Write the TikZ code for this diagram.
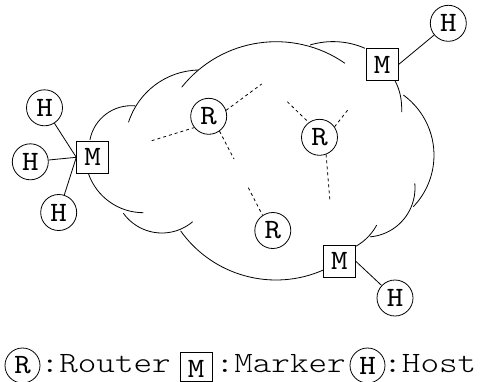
\documentclass[tikz,border=0pt]{standalone}
\usepackage{fontspec}
\newfontfamily\nodefont{lmmono10-regular.otf}[FakeStretch=1.12]
\newfontfamily\legfont{lmmonolt10-regular.otf}[FakeStretch=1.2]
\begin{document}
\begin{tikzpicture}[x=1pt,y=-1pt,
  every node/.style={font=\nodefont\fontsize{28}{33}\selectfont, inner sep=0pt},
  cnode/.style={draw, circle, minimum size=36pt, line width=0.8pt},
  mbox/.style={draw, rectangle, minimum size=32pt, line width=0.8pt},
  link/.style={line width=0.8pt},
  dlink/.style={line width=0.8pt, dash pattern=on 3pt off 3pt},
  cloudline/.style={line width=0.8pt},
  legendtext/.style={font=\legfont\fontsize{29.5}{35}\selectfont, anchor=base west}]
\useasboundingbox (0,0) rectangle (482,381);
\clip (0,0) rectangle (482,381);
% cloud outline
\draw[cloudline] (131.2,147.7) ++(190.6:42) arc[start angle=190.6, end angle=275.2, radius=42];
\draw[cloudline] (200,145) ++(197.6:75) arc[start angle=197.6, end angle=268.7, radius=75];
\draw[cloudline] (276.1,162.3) ++(218.5:120.6) arc[start angle=218.5, end angle=304.8, radius=120.6];
\draw[cloudline] (333,121.4) ++(253.2:79.8) arc[start angle=253.2, end angle=293.6, radius=79.8];
\draw[cloudline] (395,80.7) .. controls (400,90) and (402,100) .. (401.7,112);
\draw[cloudline] (359.6,155.2) ++(-54:74.4) arc[start angle=-54, end angle=43.8, radius=74.4];
\draw[cloudline] (366,188) ++(-5.5:49) arc[start angle=-5.5, end angle=85.4, radius=49];
\draw[cloudline] (330,200) ++(28.2:53) arc[start angle=28.2, end angle=61.5, radius=53];
\draw[cloudline] (276,162.8) ++(66.2:117.2) arc[start angle=66.2, end angle=144.5, radius=117.2];
\draw[cloudline] (161.9,185.5) ++(49.6:47.5) arc[start angle=49.6, end angle=144.2, radius=47.5];
\draw[cloudline] (143.4,154.5) ++(90:58.2) arc[start angle=90, end angle=161.2, radius=58.2];
% nodes
\node[mbox] (ML) at (92.7,157.3) {M};
\node[cnode] (HL1) at (44.5,107.8) {H};
\node[cnode] (HL2) at (30.3,161.8) {H};
\node[cnode] (HL3) at (58.7,212.5) {H};
\node[mbox] (MT) at (382.2,64.5) {M};
\node[cnode] (HT) at (448.3,23.3) {H};
\node[mbox] (MB) at (339.3,261.2) {M};
\node[cnode] (HB) at (395,298) {H};
\node[cnode] (R1) at (208.7,116.3) {R};
\node[cnode] (R2) at (319.5,137.3) {R};
\node[cnode] (R3) at (272.8,230.5) {R};
% solid connectors
\draw[link] (HL1) -- (ML.west);
\draw[link] (HL2) -- (ML.west);
\draw[link] (HL3) -- (ML.west);
\draw[link] (MT.east) -- (HT);
\draw[link] (MB.east) -- (HB);
% dashed links
\coordinate (d1) at (151.7,140.7);
\coordinate (d2) at (261.7,84);
\coordinate (d3) at (234,159);
\coordinate (d4) at (287.3,101.7);
\coordinate (d5) at (348.3,109.3);
\coordinate (d6) at (330,201.7);
\coordinate (d7) at (248.3,187.7);
\draw[dlink] (d1) -- (R1.218);
\draw[dlink] (R1.19) -- (d2);
\draw[dlink] (R1.306) -- (d3);
\draw[dlink] (d4) -- (R2.126);
\draw[dlink] (R2.35) -- (d5);
\draw[dlink] (R2.291) -- (d6);
\draw[dlink] (d7) -- (R3.124);
% legend
\node[cnode, minimum size=35pt] (LR) at (22.5,365.5) {R};
\node[legendtext] (LRT) at (40.5,372) {:Router};
\node[mbox, minimum width=32pt, minimum height=29.5pt, text height=22pt, text depth=0pt] (LM) at (196,366.75) {M};
\node[legendtext] (LMT) at (215.5,372) {:Marker};
\node[cnode, minimum size=35pt] (LH) at (367.5,365.5) {H};
\node[legendtext] (LHT) at (383.2,372) {:Host};
\end{tikzpicture}
\end{document}
